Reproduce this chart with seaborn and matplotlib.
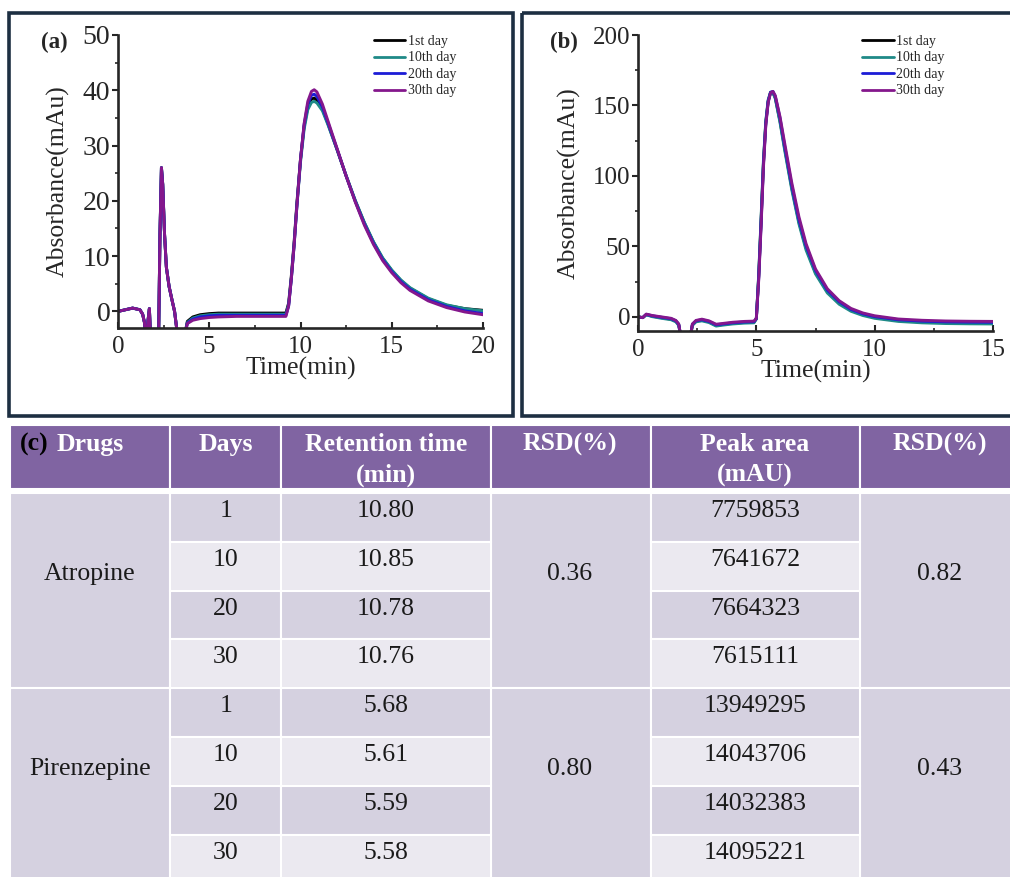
import numpy as np
import pandas as pd
import seaborn as sns
import matplotlib.pyplot as plt
from matplotlib.patches import Rectangle
from matplotlib.lines import Line2D
from matplotlib.ticker import MultipleLocator

days = ["1st day", "10th day", "20th day", "30th day"]
day_colors = ["#000000", "#1f8a87", "#1c1cd6", "#84178c"]

# (a) atropine chromatograms
time_a = [0, 0.4, 0.8, 1.2, 1.35, 1.45, 1.55, 1.65, 1.72, 1.8,
          2.1, 2.22, 2.3, 2.38, 2.45, 2.55, 2.65, 2.8, 2.95, 3.1,
          3.25, 3.55, 3.8, 4.1, 4.5, 5.0, 5.5, 6.5, 7.5, 8.5,
          9.2, 9.35, 9.5, 9.65, 9.8, 10.0, 10.2, 10.4, 10.6, 10.75,
          10.9, 11.2, 11.5, 12.0, 12.5, 13.0, 13.5, 14.0, 14.5, 15.0,
          15.5, 16.0, 17.0, 18.0, 19.0, 20.0]
atro_day1 = [0, 0.3, 0.6, 0.3, -0.5, -2, -6, -1.5, 0.5, -6,
             -6, -6, 14, 26, 23, 14, 8, 4.5, 2.2, 0,
             -4, -6, -1.8, -1.0, -0.6, -0.4, -0.3, -0.3, -0.3, -0.3,
             -0.3, 1.5, 6.5, 12.5, 19.5, 27.5, 33.5, 37, 38.4, 38.6,
             38.2, 36.6, 34, 29.3, 24.5, 20, 16, 12.5, 9.6, 7.4,
             5.6, 4.2, 2.3, 1.1, 0.5, 0.2]
atro_day10 = [0, 0.3, 0.6, 0.3, -0.5, -2, -6, -1.5, 0.5, -6,
              -6, -6, 14, 26, 23, 14, 8, 4.5, 2.2, 0,
              -4, -6, -2.0, -1.2, -0.8, -0.6, -0.5, -0.5, -0.5, -0.5,
              -0.5, 1.2, 6, 12, 19, 27, 33, 36.5, 37.8, 38.0,
              37.7, 36.3, 33.8, 29.3, 24.6, 20.1, 16.1, 12.6, 9.7, 7.5,
              5.7, 4.3, 2.4, 1.2, 0.5, 0.1]
atro_day20 = [0, 0.3, 0.6, 0.3, -0.5, -2, -6, -1.5, 0.5, -6,
              -6, -6, 14, 26, 23, 14, 8, 4.5, 2.2, 0,
              -4, -6, -2.1, -1.4, -1.0, -0.8, -0.7, -0.7, -0.7, -0.7,
              -0.7, 1.0, 6, 12, 19, 27.5, 33.8, 37.5, 39.1, 39.3,
              38.9, 37, 34.2, 29.4, 24.5, 19.9, 15.8, 12.3, 9.4, 7.2,
              5.4, 4.0, 2.1, 0.9, 0.1, -0.4]
atro_day30 = [0, 0.3, 0.6, 0.3, -0.5, -2, -6, -1.5, 0.5, -6,
              -6, -6, 14, 26, 23, 14, 8, 4.5, 2.2, 0,
              -4, -6, -2.2, -1.6, -1.3, -1.1, -1.0, -0.9, -0.9, -0.9,
              -0.9, 1, 6, 12, 19, 27.5, 34, 38, 39.8, 40.1,
              39.7, 37.5, 34.5, 29.5, 24.5, 19.8, 15.6, 12.1, 9.2, 7.0,
              5.2, 3.8, 1.9, 0.7, -0.1, -0.6]

# (b) pirenzepine chromatograms
time_b = [0, 0.2, 0.35, 0.6, 1.0, 1.4, 1.6, 1.72, 1.82, 2.2,
          2.3, 2.45, 2.7, 3.0, 3.3, 3.6, 4.0, 4.5, 4.9, 5.0,
          5.1, 5.2, 5.3, 5.4, 5.5, 5.6, 5.7, 5.8, 6.0, 6.2,
          6.5, 6.8, 7.1, 7.5, 8.0, 8.5, 9.0, 9.5, 10.0, 11.0,
          12.0, 13.0, 14.0, 15.0]
piren_day1 = [0, -0.5, 1.7, 0.5, -0.6, -1.6, -3, -5.5, -15, -15,
              -5.5, -3, -2.3, -3.5, -6, -5.3, -4.5, -3.9, -3.7, -1.3,
              29, 68, 109, 138, 153, 159, 159.3, 155.5, 139, 119.5,
              91.5, 67.5, 49, 31.5, 18, 9.8, 4.8, 1.7, -0.3, -2.6,
              -3.6, -4.1, -4.3, -4.4]
piren_day10 = [0, -0.5, 1.5, 0.2, -1, -2, -3.5, -6, -15, -15,
               -6, -3.5, -2.8, -4, -6.5, -5.8, -5, -4.4, -4.2, -1.5,
               30, 70, 111, 139, 154, 159.5, 159, 155, 138, 118,
               90, 66, 47.5, 30.5, 17, 9, 4, 1, -1, -3.2,
               -4.2, -4.7, -4.9, -5.0]
piren_day20 = [0, -0.5, 1.8, 0.8, -0.3, -1.3, -2.8, -5.2, -15, -15,
               -5.2, -2.8, -2, -3.2, -5.6, -5, -4.2, -3.6, -3.4, -1.2,
               27.5, 66, 108, 137, 153, 159.3, 160, 156.5, 141, 121,
               93, 69, 50.5, 33, 19, 10.8, 5.3, 2.2, 0.2, -2,
               -3, -3.5, -3.7, -3.8]
piren_day30 = [0, -0.5, 2, 1, 0, -1, -2.5, -5, -15, -15,
               -5, -2.5, -1.6, -2.8, -5.2, -4.6, -3.8, -3.2, -3.0, -1,
               26, 64, 106, 136, 152, 159, 160, 157, 142, 123,
               95, 71, 52, 34, 20, 11.5, 6, 2.8, 0.8, -1.5,
               -2.4, -2.9, -3.1, -3.2]

# (c) table
drugs = ["Atropine", "Pirenzepine"]
day_nums = ["1", "10", "20", "30"]
ret_time = [["10.80", "10.85", "10.78", "10.76"], ["5.68", "5.61", "5.59", "5.58"]]
ret_rsd = ["0.36", "0.80"]
peak_area = [["7759853", "7641672", "7664323", "7615111"],
             ["13949295", "14043706", "14032383", "14095221"]]
area_rsd = ["0.82", "0.43"]

sns.set_style("ticks")
plt.rcParams["font.family"] = ["Liberation Serif", "DejaVu Serif"]

W, H = 1010, 877
fig = plt.figure(figsize=(W / 100, H / 100), dpi=100)

# background layer in pixel coords: panel frames + table
bg = fig.add_axes([0, 0, 1, 1])
bg.set_xlim(0, W)
bg.set_ylim(H, 0)
bg.axis("off")
frame_col = "#1d2f42"
bg.add_patch(Rectangle((9, 13), 504, 403, fill=False, ec=frame_col, lw=2.6))
bg.add_patch(Rectangle((522, 13), 500, 403, fill=False, ec=frame_col, lw=2.6))


def long_df(t, series):
    parts = []
    for name, vals in zip(days, series):
        parts.append(pd.DataFrame({"time": t, "abs": vals, "day": name}))
    return pd.concat(parts, ignore_index=True)


def chrom(rect, df, xmax, ylim, ymaj, leg_x, tag, tag_x, ysize):
    ax = fig.add_axes(rect)
    ax.patch.set_alpha(0)
    sns.lineplot(data=df, x="time", y="abs", hue="day", hue_order=days,
                 palette=day_colors, estimator=None, sort=False,
                 lw=2.1, legend=False, ax=ax)
    ax.set_xlim(0, xmax)
    ax.set_ylim(*ylim)
    ax.xaxis.set_major_locator(MultipleLocator(5))
    ax.xaxis.set_minor_locator(MultipleLocator(2.5))
    ax.yaxis.set_major_locator(MultipleLocator(ymaj))
    ax.yaxis.set_minor_locator(MultipleLocator(ymaj / 2))
    sns.despine(ax=ax)
    for s in ["left", "bottom"]:
        ax.spines[s].set_linewidth(1.9)
    ax.tick_params(axis="y", which="major", direction="out", length=4, width=1.5,
                   labelsize=ysize, pad=1.5)
    ax.tick_params(axis="y", which="minor", direction="out", length=2.5, width=1.2)
    ax.tick_params(axis="x", which="major", direction="in", length=4, width=1.5,
                   labelsize=18, pad=6)
    ax.tick_params(axis="x", which="minor", direction="in", length=2.5, width=1.2)
    ax.set_xlabel("Time(min)", fontsize=18.5, labelpad=-1)
    ax.set_ylabel("Absorbance(mAu)", fontsize=18.5, labelpad=9)
    handles = [Line2D([], [], color=c, lw=2.0) for c in day_colors]
    ax.legend(handles, days, loc="upper left", bbox_to_anchor=(leg_x, 1.0),
              frameon=False, fontsize=10, handlelength=2.3, handletextpad=0.2,
              labelspacing=0.25, borderpad=0, borderaxespad=0)
    ax.text(tag_x, 0.975, tag, transform=ax.transAxes, fontsize=16.5,
            fontweight="bold", ha="center", va="center")
    return ax


df_a = long_df(time_a, [atro_day1, atro_day10, atro_day20, atro_day30])
df_b = long_df(time_b, [piren_day1, piren_day10, piren_day20, piren_day30])

chrom([118 / W, 1 - 328 / H, 365 / W, 293 / H], df_a, 20, (-3, 50), 10, 0.70,
      "(a)", -0.175, 20)
chrom([638 / W, 1 - 331 / H, 355 / W, 296 / H], df_b, 15, (-10, 200), 50, 0.63,
      "(b)", -0.21, 18)

# table
head_col = "#8064a2"
dark = "#d5d1e0"
light = "#ebe9f0"
txt = "#1a1a1a"
col_edges = [10, 170, 281, 491, 651, 860, 1012]
centers = [90, 226, 386, 570, 755, 940]
head_top, head_bot = 425, 489
body_top = 493
row_h = 48.8

for i in range(6):
    x0, x1 = col_edges[i], col_edges[i + 1]
    bg.add_patch(Rectangle((x0, head_top), x1 - x0, head_bot - head_top,
                           fc=head_col, ec="white", lw=1.5))

hfont = dict(fontsize=18.5, fontweight="bold", color="white", va="baseline")
bg.text(20, 451, "(c)", fontsize=18.5, fontweight="bold", color="black", va="baseline")
bg.text(57, 451, "Drugs", ha="left", **hfont)
bg.text(centers[1], 451, "Days", ha="center", **hfont)
bg.text(centers[2], 451, "Retention time", ha="center", **hfont)
bg.text(centers[2], 482, "(min)", ha="center", **hfont)
bg.text(centers[3], 451, "RSD(%)", ha="center", **hfont)
bg.text(centers[4], 451, "Peak area", ha="center", **hfont)
bg.text(centers[4], 482, "(mAU)", ha="center", **hfont)
bg.text(centers[5], 451, "RSD(%)", ha="center", **hfont)

bfont = dict(fontsize=18.5, color=txt, va="baseline", ha="center")
for g, drug in enumerate(drugs):
    top = body_top + g * 4 * row_h
    block_h = 4 * row_h
    # merged cells
    for ci in [0, 3, 5]:
        x0, x1 = col_edges[ci], col_edges[ci + 1]
        bg.add_patch(Rectangle((x0, top), x1 - x0, block_h, fc=dark, ec="white", lw=1.5))
    bg.text(centers[0], top + 87, drug, **bfont)
    bg.text(centers[3], top + 87, ret_rsd[g], **bfont)
    bg.text(centers[5], top + 87, area_rsd[g], **bfont)
    for r in range(4):
        y0 = top + r * row_h
        fc = dark if r % 2 == 0 else light
        for ci in [1, 2, 4]:
            x0, x1 = col_edges[ci], col_edges[ci + 1]
            bg.add_patch(Rectangle((x0, y0), x1 - x0, row_h, fc=fc, ec="white", lw=1.5))
        bg.text(centers[1], y0 + 24, day_nums[r], **bfont)
        bg.text(centers[2], y0 + 24, ret_time[g][r], **bfont)
        bg.text(centers[4], y0 + 24, peak_area[g][r], **bfont)

fig.savefig("out.png", dpi=100)
